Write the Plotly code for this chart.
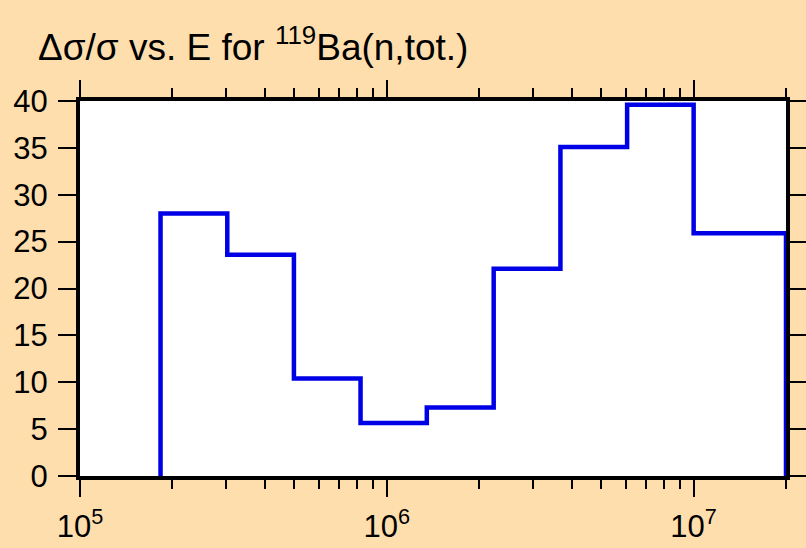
import math
import plotly.graph_objects as go

# energy bin edges (eV) and relative uncertainty (%) per bin
bin_edges = [1.83e5, 3.02e5, 4.98e5, 8.21e5, 1.35e6, 2.23e6, 3.68e6, 6.07e6, 1.0e7, 2.0e7]
rel_unc = [28.0, 23.6, 10.4, 5.65, 7.3, 22.1, 35.1, 39.6, 25.9]

major_ticks = [1e5, 1e6, 1e7]
major_labels = ["10<sup>5</sup>", "10<sup>6</sup>", "10<sup>7</sup>"]
minor_ticks = [m * 10 ** d for d in (5, 6) for m in range(2, 10)] + [2e7]
y_ticks = [0, 5, 10, 15, 20, 25, 30, 35, 40]

# step outline: up from zero at the first edge, down to zero at the last
x = [bin_edges[0]] + bin_edges + [bin_edges[-1]]
y = [0] + rel_unc + [rel_unc[-1], 0]

fig = go.Figure()
fig.add_trace(go.Scatter(x=x, y=y, mode="lines", line=dict(color="#0000e6", width=4.5, shape="hv"),
                         showlegend=False))

font = "Liberation Sans, Arial, sans-serif"
fig.update_layout(
    width=806, height=548,
    margin=dict(l=80, r=20, t=101, b=72),
    paper_bgcolor="#ffdead", plot_bgcolor="white",
    font=dict(family=font, size=31, color="black"),
    title=dict(text="\u0394\u03c3/\u03c3 vs. E for <sup>119</sup>Ba(n,tot.)", x=38 / 806, xanchor="left",
               xref="container", y=1 - 47 / 548, yanchor="middle", font=dict(size=37)),
)
fig.update_xaxes(type="log", range=[5, math.log10(2e7)], tickvals=major_ticks, ticktext=major_labels,
                 ticks="outside", ticklen=17, tickwidth=2, tickcolor="black", ticklabelstandoff=3,
                 minor=dict(tickvals=minor_ticks, ticks="outside", ticklen=9, tickwidth=2, tickcolor="black"),
                 showline=True, linewidth=4, linecolor="black", mirror="allticks", showgrid=False,
                 automargin=False)
fig.update_yaxes(range=[0, 40], tickvals=y_ticks, ticks="outside", ticklen=18, tickwidth=2, tickcolor="black",
                 showline=True, linewidth=4, linecolor="black", mirror="allticks", showgrid=False,
                 zeroline=False, ticklabelstandoff=4, automargin=False)

fig.write_html("out.html", config={"displayModeBar": False},
               post_script="document.body.style.margin='0';")
